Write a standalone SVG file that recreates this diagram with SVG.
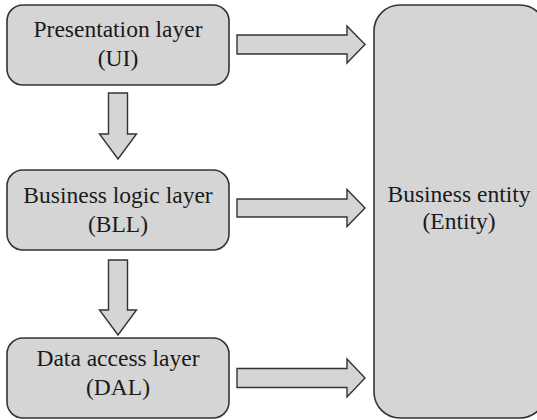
<svg xmlns="http://www.w3.org/2000/svg" width="537" height="420" viewBox="0 0 537 420">
<style>
.box{fill:#d5d5d5;stroke:#333;stroke-width:1.6}
.arr{fill:#d5d5d5;stroke:#333;stroke-width:1.4;stroke-linejoin:miter}
text{font-family:"Liberation Serif","Times New Roman",serif;font-size:23.5px;fill:#1a1a1a;text-anchor:middle}
</style>
<rect width="537" height="420" fill="#fff"/>
<g id="entity">
<rect class="box" x="374" y="5" width="172" height="413" rx="26" ry="26"/>
<text x="459" y="202">Business entity</text>
<text x="459" y="229">(Entity)</text>
</g>
<g id="ui">
<rect class="box" x="7" y="5" width="222" height="80" rx="16" ry="16"/>
<text x="118" y="37">Presentation layer</text>
<text x="118" y="66">(UI)</text>
</g>
<g id="bll">
<rect class="box" x="7" y="170" width="222" height="80" rx="16" ry="16"/>
<text x="118" y="203">Business logic layer</text>
<text x="118" y="232">(BLL)</text>
</g>
<g id="dal">
<rect class="box" x="7" y="338" width="222" height="80" rx="16" ry="16"/>
<text x="118" y="366">Data access layer</text>
<text x="118" y="395">(DAL)</text>
</g>
<g id="connectors">
<polygon class="arr" points="237,35 347,35 347,26 365,44.5 347,63 347,54 237,54"/>
<polygon class="arr" points="237,199 347,199 347,189.5 365,208 347,226.5 347,217 237,217"/>
<polygon class="arr" points="237,368.5 347,368.5 347,359 365,378 347,397 347,387.5 237,387.5"/>
<polygon class="arr" points="108.5,93 127.5,93 127.5,134 136.5,134 118,159 99.5,134 108.5,134"/>
<polygon class="arr" points="108.5,260 127.5,260 127.5,310 136.5,310 118,335 99.5,310 108.5,310"/>
</g>
</svg>
